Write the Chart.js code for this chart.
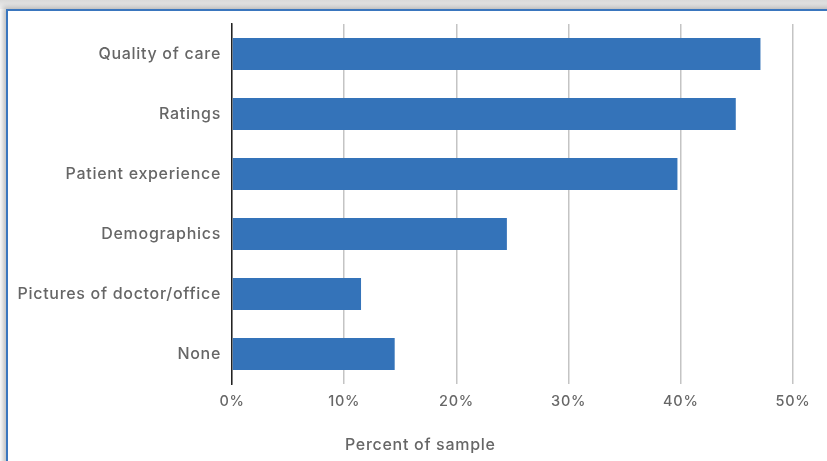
<!DOCTYPE html>
<html>
<head>
<meta charset="utf-8">
<script src="https://cdn.jsdelivr.net/npm/chart.js@4"></script>
<style>
  html, body { margin: 0; padding: 0; }
  body {
    width: 827px; height: 461px; position: relative; overflow: hidden;
    background: linear-gradient(to bottom, #d9d9d9 0px, #f2f2f2 9px, #fff 9px);
  }
  #frame {
    position: absolute; left: 6px; top: 9px; width: 900px; height: 500px;
    border-top: 2px solid #3a76be; border-left: 2px solid #3a76be;
    background: #fff;
    box-shadow: -3px -2px 5px rgba(0,0,0,0.25);
  }
  #wrap { position: absolute; left: 0; top: 0; width: 827px; height: 461px; }
  #xTitle {
    position: absolute; left: 345px; top: 434px;
    font-family: Inter, sans-serif; font-size: 16px; font-weight: 500;
    letter-spacing: 0.7px; color: #666;
  }
</style>
</head>
<body>
<div id="frame"></div>
<div id="wrap"><canvas id="chart"></canvas></div>
<div id="xTitle">Percent of sample</div>
<script>
  // Data
  const categories = ['Quality of care', 'Ratings', 'Patient experience', 'Demographics', 'Pictures of doctor/office', 'None'];
  const percentValues = [47.1, 44.9, 39.7, 24.5, 11.5, 14.5];
  const xTicks = [0, 10, 20, 30, 40, 50];

  const fontFamily = 'Inter, sans-serif';

  // wider letters, closer to the original geometric font
  const spacingPlugin = {
    id: 'spacing',
    beforeDraw(chart) { chart.ctx.letterSpacing = '0.7px'; }
  };

  const ctx = document.getElementById('chart').getContext('2d');
  new Chart(ctx, {
    type: 'bar',
    data: {
      labels: categories,
      datasets: [{
        data: percentValues,
        backgroundColor: '#3473b9',
        borderWidth: 0,
        categoryPercentage: 1,
        barPercentage: 0.53
      }]
    },
    plugins: [spacingPlugin],
    options: {
      indexAxis: 'y',
      responsive: true,
      maintainAspectRatio: false,
      animation: false,
      layout: { padding: { left: 0, top: 24, right: 34, bottom: 0 } },
      plugins: {
        legend: { display: false },
        tooltip: { enabled: false }
      },
      scales: {
        x: {
          min: 0,
          max: 50,
          afterBuildTicks: function(scale) {
            scale.ticks = xTicks.map(v => ({ value: v }));
          },
          afterFit: function(scale) { scale.height = 77; },
          border: { display: false },
          grid: { color: '#c4c4c4', lineWidth: 1.5, drawTicks: false },
          ticks: {
            padding: 9,
            color: '#666',
            font: { family: fontFamily, size: 14.5, weight: '500' },
            callback: v => v + '%'
          }
        },
        y: {
          afterFit: function(scale) { scale.width = 232; },
          border: { display: true, color: '#222', width: 1.5 },
          grid: { display: false, drawTicks: false },
          ticks: {
            padding: 11,
            color: '#666',
            font: { family: fontFamily, size: 16, weight: '500' }
          }
        }
      }
    }
  });
</script>
</body>
</html>
